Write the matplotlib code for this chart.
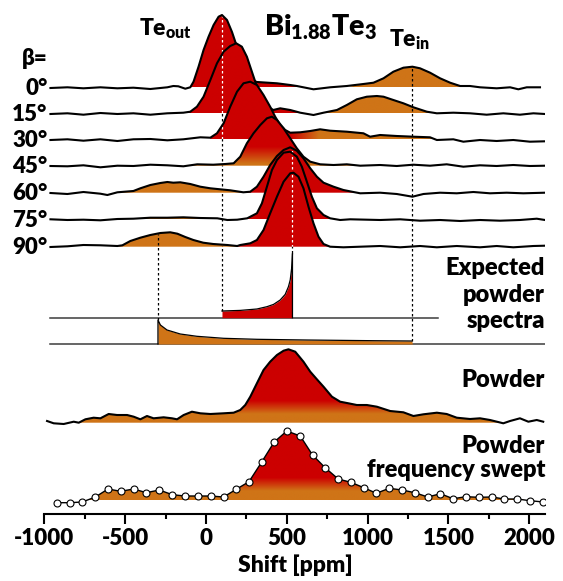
import numpy as np
import matplotlib
matplotlib.use("Agg")
import matplotlib.pyplot as plt
from matplotlib.path import Path
from matplotlib.colors import to_rgb

plt.rcParams['font.family'] = ['Lato', 'DejaVu Sans']
plt.rcParams['font.weight'] = 'heavy'
plt.rcParams['axes.labelweight'] = 'heavy'
plt.rcParams['axes.unicode_minus'] = False
plt.rcParams['mathtext.fontset'] = 'custom'
plt.rcParams['mathtext.rm'] = 'Lato:heavy'
plt.rcParams['mathtext.bf'] = 'Lato:heavy'
plt.rcParams['mathtext.it'] = 'Lato:heavy'

RED = np.array(to_rgb('#cc0000'))
ORANGE = np.array(to_rgb('#cf7417'))

# ---- single crystal spectra (shift in ppm, intensity in arb. units) ----
angles = ['0°', '15°', '30°', '45°', '60°', '75°', '90°']
offsets = [427, 401, 375, 348.6, 321.6, 295, 267.6]

shift_00 = [-962, -857, -758, -653, -548, -449, -344, -239, -202, -171, -128, -97, -77, -46, -15, 16, 47, 78,
            99, 130, 161, 192, 222, 253, 284, 315, 439, 521, 562, 665, 768, 871, 974, 1036, 1098, 1159, 1221,
            1277, 1324, 1386, 1448, 1510, 1572, 1633, 1695, 1798, 1881, 1932, 1984, 2066]
int_00 = [-0.7, 0, -1, 0, -1, -0.4, -1.7, 0, 1.3, 1, -1.4, 0, 5.6, 20.6, 37.3, 50.6, 62.3, 70.6,
          72.3, 67.3, 55.3, 40.3, 25.3, 13.3, 7.3, 5.3, 4, 2.3, 1.3, -2, 0, 1.3, 3.3, 4.6, 9, 15.6, 19.6,
          20.6, 19, 14.6, 9, 4.6, 1.3, 1.3, 0, -1, 0, -2, 0, 0]

shift_15 = [-962, -857, -758, -653, -548, -449, -344, -239, -140, -97, -56, -15, 27, 68, 109, 150, 187, 222,
            253, 284, 315, 346, 377, 416, 459, 521, 583, 665, 727, 810, 871, 933, 995, 1057, 1098, 1159, 1221,
            1283, 1366, 1428, 1530, 1633, 1736, 1839, 1942, 2025, 2097]
int_15 = [-0.7, 0, -1.4, 0.3, -0.7, 0, -1.4, 0, 0.6, 1.6, 6.6, 16.6, 33.3, 50, 61.6, 67.3, 70, 66.6,
          56.6, 41.6, 26.6, 15.3, 7.3, 3.3, 5, 3.3, 0.6, -1.7, 0.6, 3.3, 8.3, 14, 16.6, 17.3, 16.6, 13.3, 10,
          6, 1.6, 0, 0.6, 0, -1.4, 0, -1.4, 0, -0.7]

shift_30 = [-962, -857, -758, -653, -548, -449, -344, -239, -140, -35, 27, 68, 109, 150, 192, 232, 274, 315,
            356, 397, 428, 459, 490, 521, 583, 645, 706, 768, 871, 974, 1015, 1077, 1180, 1283, 1386, 1428,
            1530, 1592, 1695, 1798, 1901, 2004, 2097]
int_30 = [-0.7, 0, -1.4, 0, -1.7, 0, 0.3, -1, 0, 2, 1.6, 6, 16, 32.6, 47.6, 56, 57.6, 54.3,
          44.3, 32.6, 22.6, 14.3, 9.3, 6.6, 7, 8.3, 10, 8.6, 7.6, 6, 2.6, 4.3, 3.3, 2.6, 2, -0.7,
          0, -2.4, -0.7, -1.7, -0.7, -2.4, -2]

shift_45 = [-962, -857, -758, -653, -548, -449, -344, -239, -140, -54, 45, 119, 171, 212, 253, 294, 336, 377,
            408, 439, 480, 521, 562, 603, 645, 706, 789, 871, 954, 1077, 1180, 1283, 1386, 1489, 1592, 1695,
            1798, 1901, 2004, 2097]
int_45 = [-0.3, -0.6, 0.4, -1.6, 0, -0.3, 1, 0.4, -0.6, 1.4, 1, 1.7, 2.4, 9, 22.4, 32.4, 40.7, 47.4,
          49, 45.7, 37.4, 27.4, 17.4, 9, 4, 1.4, 0.7, 1.4, 0, 0.7, -0.3, 1, 0, 1.4, -1, 0.4,
          -0.3, 0.7, -0.3, 0]

shift_60 = [-962, -857, -758, -653, -610, -548, -449, -406, -344, -282, -239, -202, -159, -97, -35, 27, 88, 150,
            231, 274, 315, 356, 397, 439, 480, 521, 562, 603, 645, 686, 727, 789, 850, 912, 954, 1077, 1180,
            1277, 1345, 1448, 1551, 1654, 1757, 1860, 1963, 2097]
int_60 = [-0.3, -1.3, 0.7, -1, -2.3, 0.4, 1.7, 4.4, 7.7, 9.7, 10.7, 10, 10.4, 8.7, 6, 4.4, 3.4, 2.4,
          0.4, 1, 6, 16, 27.7, 36.7, 42.7, 45.4, 42, 34.4, 24.4, 16, 10, 6, 2.7, 0.7, -0.6, 0, -1.3,
          -4, -1.3, 0, -0.6, 0.7, -0.6, 0, -0.6, 0]

shift_75 = [-962, -857, -758, -653, -548, -449, -344, -239, -140, -35, 70, 132, 193, 255, 315, 346, 377, 408,
            439, 480, 521, 562, 593, 624, 655, 686, 727, 768, 830, 892, 1077, 1201, 1324, 1448, 1572, 1695,
            1819, 1942, 2046, 2097]
int_75 = [0, -0.7, -0.4, -1, 0.3, 0.6, 1.6, 1.6, 2, 1.3, 1, -0.7, -0.4, 1, 6, 16, 32.6, 49.3,
          59.3, 66.6, 67.6, 62.6, 52.6, 37.6, 22.6, 11, 4.3, 1, -0.7, 0, -0.7, 0, -1.4, -0.7, -1.7, -0.7,
          -1.4, -0.7, 0.6, -0.7]

shift_90 = [-962, -857, -758, -653, -548, -517, -468, -406, -344, -282, -221, -177, -128, -78, -17, 45, 132, 193,
            212, 274, 315, 356, 397, 439, 480, 521, 541, 572, 603, 634, 665, 696, 727, 768, 850, 954, 1077,
            1201, 1324, 1428, 1551, 1695, 1798, 1901, 2025, 2097]
int_90 = [-0.3, 0.4, 1.7, 1.4, 0.7, 1.4, 5.7, 9, 11.7, 13.7, 14.4, 13, 9.7, 6.7, 4, 2.7, 1.7, 0.7,
          1.7, 3.4, 6.7, 16.7, 33.4, 50, 65, 73.4, 74, 70, 58.4, 40, 23.4, 10, 2.7, 0, -0.6, 0, 0.7,
          -0.6, 0.7, -0.6, 0.7, -0.6, 0.7, -0.6, 0.7, 1]

single_shifts = [shift_00, shift_15, shift_30, shift_45, shift_60, shift_75, shift_90]
single_ints = [int_00, int_15, int_30, int_45, int_60, int_75, int_90]

# ---- expected powder patterns ----
exp_out_base = 196.6
exp_out_shift = [99, 212, 315, 377, 418, 459, 490, 510, 521, 531, 535, 535]
exp_out_int = [6.7, 7.3, 8.7, 11, 13.3, 17.7, 23.3, 31, 37.7, 51, 64.3, 0]
exp_in_base = 170.3
exp_in_shift = [-297, -297, -282, -241, -159, -56, 109, 315, 624, 1036, 1273, 1277]
exp_in_int = [0, 24, 19, 14, 10, 7.7, 5.7, 4.7, 4, 3.3, 3, 0]

# ---- powder ----
powder_base = 91.6
powder_shift = [-983, -942, -880, -818, -787, -746, -695, -653, -602, -550, -488, -447, -406, -365, -324, -262,
                -210, -179, -138, -87, -35, 27, 109, 171, 212, 243, 274, 315, 356, 397, 439, 480, 510, 552,
                603, 645, 686, 727, 779, 830, 881, 933, 995, 1057, 1139, 1221, 1283, 1345, 1428, 1489, 1551,
                1633, 1695, 1757, 1839, 1881, 1942, 1994, 2046, 2086]
powder_int = [1.7, -0.6, -1.3, 1, 0, 3.4, 5, 4.4, 8.7, 7.7, 7.7, 6, 3.4, 6.7, 4.4, 5.4,
              4.4, 3.4, 7.7, 11, 9.4, 8.7, 9.4, 10, 12.7, 17.7, 26, 39.4, 52.7, 61, 67.7, 72, 73.4, 71,
              61, 51, 43.4, 36, 26, 21, 19.4, 17.7, 17.7, 16, 11.7, 10.4, 6.7, 8.4, 10, 8.7, 5,
              3.7, 4.4, 2.7, -0.6, 1.7, 4.4, 1, 2.7, 1]

# ---- powder, frequency swept ----
swept_base = 14.3
swept_shift = [-921, -843, -765, -684, -606, -528, -447, -369, -289, -208, -130, -49, 28, 109, 187, 266, 346,
               422, 500, 583, 659, 737, 818, 896, 976, 1054, 1133, 1213, 1292, 1372, 1450, 1528, 1609, 1687,
               1768, 1845, 1926, 2004, 2087]
swept_int = [-2.7, -2.7, -2, 3, 11, 8.7, 11, 7.3, 10, 5.3, 4, 4, 4, 3, 10.7, 18.3, 38.3,
             58, 69, 64, 45, 32.3, 21, 17.7, 12.3, 6.7, 11.7, 10, 7.3, 3, 6.3, 1.3, 3.3, 2.7,
             3, 1, 1, -0.7, -2]

# fill ranges and colouring of each single crystal trace
fill_spans = [[(-100, 570), (960, 1640)], [(-100, 590), (800, 1430)], [(20, 1410)], [(-60, 960)],
              [(-460, 950)], [(-460, 110), (250, 770)], [(-520, 770)]]
red_spans = [(-200, 700), (-200, 650), (-200, 520), (150, 700), (245, 1000), (200, 1000), (205, 1000)]
red_soft = [20, 20, 180, 60, 15, 20, 20]
vgrads = [None, None, None, (2, 17), None, None, None]

te_out, te_out90, te_in, te_90 = 99, -297, 1277, 535


def grad_fill(ax, x, y, base, spans, rspan, soft, vgrad, z):
    x = np.asarray(x, float)
    y = np.asarray(y, float)
    paths = []
    for lo, hi in spans:
        sel = (x >= lo) & (x <= hi) & (y > 0)
        pc = ax.fill_between(x, base, base + y, where=sel, interpolate=True,
                             facecolor='none', edgecolor='none')
        paths += pc.get_paths()
        pc.remove()
    clip = Path.make_compound_path(*paths)
    gx = np.linspace(-1000, 2100, 900)
    gh = np.linspace(0, 80, 200)
    wx = np.clip(1 + np.minimum(gx - rspan[0], rspan[1] - gx) / soft, 0, 1)
    if vgrad is None:
        wy = np.ones_like(gh)
    else:
        wy = np.clip((gh - vgrad[0]) / vgrad[1], 0, 1)
    w = wy[:, None] * wx[None, :]
    rgb = ORANGE + w[..., None] * (RED - ORANGE)
    im = ax.imshow(rgb, extent=(gx[0], gx[-1], base, base + gh[-1]), origin='lower',
                   aspect='auto', interpolation='bilinear', zorder=z)
    im.set_clip_path(clip, transform=ax.transData)
    return clip


fig = plt.figure(figsize=(5.63, 5.81), dpi=100)
ax = fig.add_axes([0.0787, 0.1148, 0.8902, 0.8852])

dot = (0, (2, 2))

# single crystal traces, top to bottom, later ones in front
for i in range(len(angles)):
    base = offsets[i]
    z = 3 + 2 * i
    clip = grad_fill(ax, single_shifts[i], single_ints[i], base, fill_spans[i],
                     red_spans[i], red_soft[i], vgrads[i], z)
    ax.plot(single_shifts[i], np.array(single_ints[i]) + base, color='black', lw=1.5,
            zorder=z + 0.5, solid_joinstyle='round')
    xs = te_out if i < 3 else te_90
    if i != 3:
        wl, = ax.plot([xs, xs], [base, base + 80], color='white', lw=0.9, ls=dot, zorder=z + 0.2)
        wl.set_clip_path(clip, transform=ax.transData)
    ax.text(-980, base - 7.3, angles[i], ha='right', va='baseline', fontsize=16,
            clip_on=False)

ax.text(-980, 449.3, 'β=', ha='right', va='baseline', fontsize=16, clip_on=False)

# guide lines
ax.plot([te_out, te_out], [exp_out_base + 6.7, offsets[0] + 72.3], color='black', lw=0.9, ls=dot, zorder=1)
ax.plot([te_90, te_90], [exp_out_base + 64.3, offsets[6] + 74], color='black', lw=0.9, ls=dot, zorder=1)
ax.plot([te_out90, te_out90], [exp_in_base + 24, offsets[6] + 13], color='black', lw=0.9, ls=dot, zorder=30)
ax.plot([te_in, te_in], [exp_in_base + 3, offsets[0] + 20.6], color='black', lw=0.9, ls=dot, zorder=30)

# expected powder spectra
ax.plot([-967, 1433], [exp_out_base, exp_out_base], color='#3c3c3c', lw=1.1, zorder=2)
ax.plot([-967, 2097], [exp_in_base, exp_in_base], color='#3c3c3c', lw=1.1, zorder=2)
ax.fill_between(exp_out_shift, exp_out_base, np.array(exp_out_int) + exp_out_base,
                color='#cc0000', lw=0, zorder=3)
ax.plot(exp_out_shift, np.array(exp_out_int) + exp_out_base, color='black', lw=0.9, zorder=4)
ax.fill_between(exp_in_shift, exp_in_base, np.array(exp_in_int) + exp_in_base,
                color='#cf7417', lw=0, zorder=3)
ax.plot(exp_in_shift[:-1], np.array(exp_in_int[:-1]) + exp_in_base, color='black', lw=0.9, zorder=4)

# powder
grad_fill(ax, powder_shift, powder_int, powder_base, [(-800, 1830)], (-2000, 4000), 1, (9, 13), 3)
ax.plot(powder_shift, np.array(powder_int) + powder_base, color='black', lw=1.5, zorder=4)

# powder frequency swept
grad_fill(ax, swept_shift, swept_int, swept_base, [(-720, 2010)], (-2000, 4000), 1, (9, 13), 3)
ax.plot(swept_shift, np.array(swept_int) + swept_base, color='black', lw=1.0, marker='o', ms=5,
        mfc='white', mec='black', mew=0.8, zorder=4)

# labels
ax.text(-252, 479.3, r'$\mathrm{Te}_{\mathrm{out}}$', ha='center', va='baseline', fontsize=16.5, clip_on=False)
ax.text(1262, 467.6, r'$\mathrm{Te}_{\mathrm{in}}$', ha='center', va='baseline', fontsize=16.5, clip_on=False)
ax.text(709, 479.3, r'$\mathrm{Bi}_{1.88}\mathrm{Te}_{3}$', ha='center', va='baseline', fontsize=20.5,
        clip_on=False)
for txt, yy in [('Expected', 239.3), ('powder', 212.6), ('spectra', 186.6), ('Powder', 127.6),
                ('Powder', 61.8), ('frequency swept', 37.0)]:
    ax.text(2097, yy, txt, ha='right', va='baseline', fontsize=17, clip_on=False)

ax.set_xlim(-1000, 2100)
ax.set_ylim(0, 514.3)
for s in ['left', 'right', 'top']:
    ax.spines[s].set_visible(False)
ax.spines['bottom'].set_linewidth(1.5)
ax.set_yticks([])
ax.set_xticks(np.arange(-1000, 2001, 500))
ax.set_xticks(np.arange(-750, 2100, 500), minor=True)
ax.tick_params(axis='x', which='major', length=7, width=1.5, labelsize=16, pad=3)
ax.tick_params(axis='x', which='minor', length=3.5, width=1.5)
ax.set_xlabel('Shift [ppm]', fontsize=16.5, fontweight='heavy', labelpad=4)

fig.savefig('out.png', dpi=100)
